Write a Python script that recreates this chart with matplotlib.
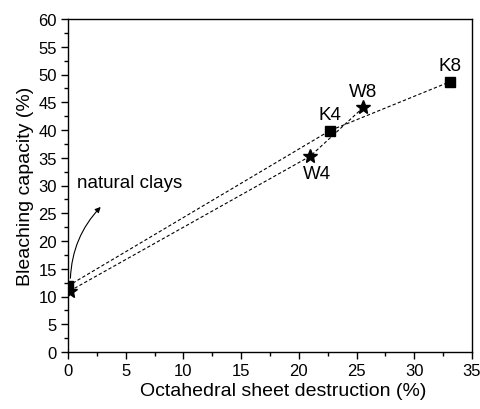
import numpy as np
import matplotlib
matplotlib.use("Agg")
import matplotlib.pyplot as plt

# ── data ────────────────────────────────────────────────────────────────
k_x = [0.0, 22.7, 33.1]
k_y = [11.9, 39.9, 48.7]
w_x = [0.15, 21.0, 25.6]
w_y = [11.0, 35.3, 44.1]
k_labels = ["", "K4", "K8"]
w_labels = ["", "W4", "W8"]

plt.rcParams.update({
    "font.family": ["Liberation Sans", "DejaVu Sans"],
    "font.size": 12,
})

fig = plt.figure(figsize=(4.81, 4.10), dpi=100)
ax = fig.add_axes([68 / 481, 1 - 353 / 410, 404 / 481, 333 / 410])

ax.plot(k_x, k_y, ls=(0, (3, 2)), color="black", lw=0.8)
ax.plot(w_x, w_y, ls=(0, (3, 2)), color="black", lw=0.8)
ax.plot(k_x, k_y, ls="none", marker="s", ms=7, color="black")
ax.plot(w_x, w_y, ls="none", marker="*", ms=10, color="black")

# point labels
fs_pt = 13.5
ax.text(k_x[1], k_y[1] + 1.3, k_labels[1], ha="center", va="bottom", fontsize=fs_pt)
ax.text(k_x[2], k_y[2] + 1.3, k_labels[2], ha="center", va="bottom", fontsize=fs_pt)
ax.text(w_x[2], w_y[2] + 1.3, w_labels[2], ha="center", va="bottom", fontsize=fs_pt)
ax.text(w_x[1] + 0.6, w_y[1] - 1.6, w_labels[1], ha="center", va="top", fontsize=fs_pt)

ax.annotate("", xy=(3.0, 26.5), xytext=(0.2, 12.8),
            arrowprops=dict(arrowstyle="-|>", color="black", lw=0.8,
                            mutation_scale=8,
                            connectionstyle="arc3,rad=-0.2"))
ax.text(0.75, 30.6, "natural clays", ha="left", va="center", fontsize=fs_pt)

ax.set_xlim(0, 35)
ax.set_ylim(0, 60)
ax.set_xticks(np.arange(0, 36, 5))
ax.set_yticks(np.arange(0, 61, 5))
ax.set_xticks(np.arange(2.5, 35, 5), minor=True)
ax.set_yticks(np.arange(2.5, 60, 5), minor=True)
ax.tick_params(which="major", direction="out", length=5, width=1, labelsize=12, pad=3)
ax.tick_params(which="minor", direction="out", length=3, width=1)
for sp in ax.spines.values():
    sp.set_linewidth(1)

ax.set_xlabel("Octahedral sheet destruction (%)", fontsize=14)
ax.xaxis.set_label_coords(0.532, -0.09)
ax.set_ylabel("Bleaching capacity (%)", fontsize=14, labelpad=3)

fig.savefig("out.png", dpi=100)
